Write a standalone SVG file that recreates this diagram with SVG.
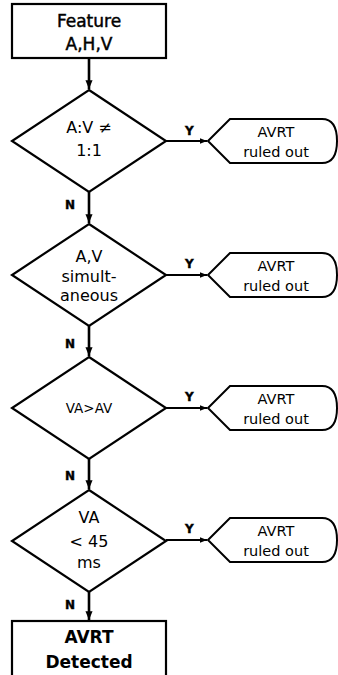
<svg xmlns="http://www.w3.org/2000/svg" width="338" height="675" viewBox="0 0 338 675">
  <style>
    .box { fill: #fff; stroke: #000; stroke-width: 2.2; }
    .dec { fill: #fff; stroke: #000; stroke-width: 2.2; }
    .term { fill: #fff; stroke: #000; stroke-width: 2; }
    .edge { fill: none; stroke: #000; stroke-width: 2.6; }
    .edge-h { fill: none; stroke: #000; stroke-width: 2.2; }
    .t { font-family: "DejaVu Sans", "Liberation Sans", sans-serif; text-anchor: middle; fill: #000; }
    .big { font-size: 17px; stroke: #000; stroke-width: 0.45; }
    .dt { font-size: 16px; }
    .dt2 { font-size: 13.5px; }
    .tt { font-size: 14.5px; }
    .bold { font-size: 17px; font-weight: 700; }
    .yn { font-family: "DejaVu Sans", sans-serif; font-weight: 900; font-size: 12px; fill: #000; stroke: #000; stroke-width: 0.4; }
  </style>
  <defs>
    <marker id="arr" viewBox="0 0 10 10" refX="10" refY="5" markerWidth="3.4" markerHeight="3.4" orient="auto" markerUnits="strokeWidth">
      <path d="M0,1 L10,5 L0,9 Z" fill="#000"/>
    </marker>
  </defs>

  <!-- connectors -->
  <g id="connectors">
    <path class="edge" d="M89,58 V89" marker-end="url(#arr)"/>
    <path class="edge" d="M89,192 V223" marker-end="url(#arr)"/>
    <path class="edge" d="M89,326 V356" marker-end="url(#arr)"/>
    <path class="edge" d="M89,459 V489" marker-end="url(#arr)"/>
    <path class="edge" d="M89,592 V620" marker-end="url(#arr)"/>
    <path class="edge-h" d="M166,141 H207" marker-end="url(#arr)"/>
    <path class="edge-h" d="M166,275 H207" marker-end="url(#arr)"/>
    <path class="edge-h" d="M166,408 H207" marker-end="url(#arr)"/>
    <path class="edge-h" d="M166,540 H207" marker-end="url(#arr)"/>
    <text class="yn" x="185" y="135">Y</text>
    <text class="yn" x="185" y="268">Y</text>
    <text class="yn" x="185" y="401">Y</text>
    <text class="yn" x="185" y="533">Y</text>
    <text class="yn" x="65" y="209">N</text>
    <text class="yn" x="65" y="348">N</text>
    <text class="yn" x="65" y="480">N</text>
    <text class="yn" x="65" y="609">N</text>
  </g>

  <g id="start">
    <rect class="box" x="12" y="4" width="154" height="54"/>
    <text class="t big" x="89" y="27">Feature</text>
    <text class="t big" x="89" y="50">A,H,V</text>
  </g>

  <g id="dec-ratio">
    <path class="dec" d="M89,90 L166,141 L89,192 L12,141 Z"/>
    <text class="t dt" x="89" y="133">A:V ≠</text>
    <text class="t dt" x="89" y="156">1:1</text>
  </g>
  <g id="out-1">
    <path class="term" d="M208,141 L230,119 L322,119 Q337,119 337,141 Q337,163 322,163 L230,163 Z"/>
    <text class="t tt" x="276" y="137">AVRT</text>
    <text class="t tt" x="276" y="157">ruled out</text>
  </g>

  <g id="dec-simul">
    <path class="dec" d="M89,224 L166,275 L89,326 L12,275 Z"/>
    <text class="t dt" x="89" y="262">A,V</text>
    <text class="t dt" x="89" y="282">simult-</text>
    <text class="t dt" x="89" y="301">aneous</text>
  </g>
  <g id="out-2">
    <path class="term" d="M208,275 L230,253 L322,253 Q337,253 337,275 Q337,297 322,297 L230,297 Z"/>
    <text class="t tt" x="276" y="271">AVRT</text>
    <text class="t tt" x="276" y="291">ruled out</text>
  </g>

  <g id="dec-order">
    <path class="dec" d="M89,357 L166,408 L89,459 L12,408 Z"/>
    <text class="t dt2" x="89" y="413">VA&gt;AV</text>
  </g>
  <g id="out-3">
    <path class="term" d="M208,408 L230,386 L322,386 Q337,386 337,408 Q337,430 322,430 L230,430 Z"/>
    <text class="t tt" x="276" y="404">AVRT</text>
    <text class="t tt" x="276" y="424">ruled out</text>
  </g>

  <g id="dec-va">
    <path class="dec" d="M89,490 L166,541 L89,592 L12,541 Z"/>
    <text class="t dt" x="89" y="523">VA</text>
    <text class="t dt" x="89" y="547">&lt; 45</text>
    <text class="t dt" x="89" y="568">ms</text>
  </g>
  <g id="out-4">
    <path class="term" d="M208,540 L230,518 L322,518 Q337,518 337,540 Q337,562 322,562 L230,562 Z"/>
    <text class="t tt" x="276" y="536">AVRT</text>
    <text class="t tt" x="276" y="556">ruled out</text>
  </g>

  <g id="detected">
    <rect class="box" x="12" y="621" width="154" height="60"/>
    <text class="t bold" x="89" y="643">AVRT</text>
    <text class="t bold" x="89" y="668">Detected</text>
  </g>
</svg>
